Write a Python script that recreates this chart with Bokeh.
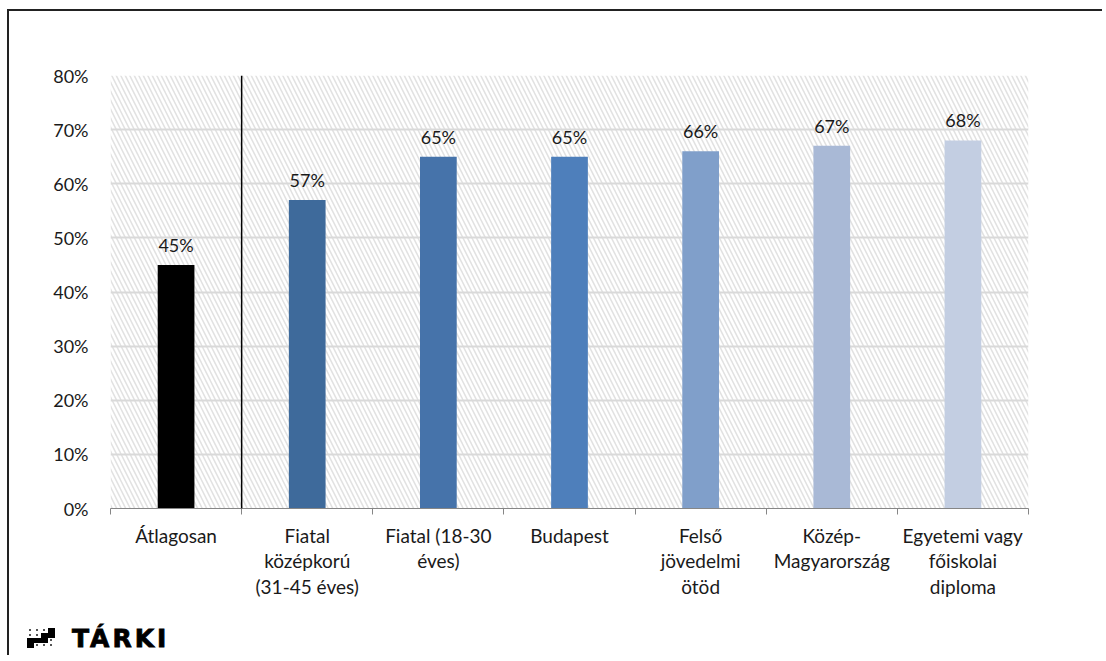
from bokeh.plotting import figure
from bokeh.models import (ColumnDataSource, FixedTicker, Range1d, Span, Div,
                          NumeralTickFormatter)
from bokeh.layouts import column
from bokeh.embed import file_html
from bokeh.resources import INLINE
from bokeh.core.properties import value

categories = ["Átlagosan", "Fiatal\nközépkorú\n(31-45 éves)", "Fiatal (18-30\néves)",
              "Budapest", "Felső\njövedelmi\nötöd", "Közép-\nMagyarország",
              "Egyetemi vagy\nfőiskolai\ndiploma"]
values = [0.45, 0.57, 0.65, 0.65, 0.66, 0.67, 0.68]
labels = ["45%", "57%", "65%", "65%", "66%", "67%", "68%"]
colors = ["#000000", "#3E6A9B", "#4673AA", "#4E7FBB", "#809FCA", "#A9B9D6", "#C3CEE2"]
y_ticks = [0, 0.1, 0.2, 0.3, 0.4, 0.5, 0.6, 0.7, 0.8]

FONT = "Lato"
n = len(categories)
xs = [i + 0.5 for i in range(n)]

src = ColumnDataSource(dict(x=xs, top=values, color=colors, label=labels))

p = figure(width=1095, height=600, output_backend="svg", toolbar_location=None,
           x_range=Range1d(0, n), y_range=Range1d(0, 0.8),
           min_border_left=101, min_border_right=76, min_border_top=64,
           min_border_bottom=103)
p.outline_line_color = None
p.background_fill_color = "white"
p.border_fill_color = "white"

# hatched plot-area background
p.quad(left=[0], right=[n], bottom=[0], top=[0.8], fill_color="white",
       line_color=None, hatch_pattern="\\", hatch_color="#E2E2E2",
       hatch_weight=1.6, hatch_scale=9, level="image")

p.xgrid.visible = False
p.ygrid.grid_line_color = "#D9D9D9"
p.ygrid.grid_line_width = 2
p.yaxis.ticker = FixedTicker(ticks=y_ticks)

p.vbar(x="x", top="top", width=0.28, bottom=0, fill_color="color", line_color=None, source=src)

p.text(x="x", y="top", text="label", source=src, text_align="center",
       text_baseline="alphabetic", y_offset=-20, text_font=value(FONT),
       text_font_size="18px", text_color="#1a1a1a")

p.add_layout(Span(location=1, dimension="height", line_color="#000000", line_width=1.5))

# y axis
p.yaxis.formatter = NumeralTickFormatter(format="0%")
p.yaxis.axis_line_color = None
p.yaxis.major_tick_line_color = None
p.yaxis.minor_tick_line_color = None
p.yaxis.major_label_standoff = 16
p.yaxis.major_label_text_font = FONT
p.yaxis.major_label_text_font_size = "18px"
p.yaxis.major_label_text_color = "#1a1a1a"

# x axis
p.xaxis.ticker = FixedTicker(ticks=xs, minor_ticks=list(range(n + 1)))
p.xaxis.major_label_overrides = {x: c for x, c in zip(xs, categories)}
p.xaxis.axis_line_color = "#868686"
p.xaxis.axis_line_width = 1.2
p.xaxis.major_tick_line_color = None
p.xaxis.minor_tick_line_color = "#868686"
p.xaxis.minor_tick_out = 6
p.xaxis.minor_tick_in = 0
p.xaxis.major_label_standoff = 9
p.xaxis.major_label_text_font = FONT
p.xaxis.major_label_text_font_size = "19px"
p.xaxis.major_label_text_color = "#1a1a1a"
p.xaxis.major_label_text_line_height = 1.12

# TÁRKI logo
cells = [(3, 0), (2, 1), (3, 1), (0, 2), (1, 2), (2, 2), (0, 3)]
dots = [(0, 0), (1, 0), (2, 0), (0, 1), (1, 1), (3, 2), (1, 3), (2, 3), (3, 3)]
icon = "".join(
    f'<div style="position:absolute;left:{18 + cx * 7}px;top:{17 + cy * 5}px;'
    f'width:7px;height:5px;background:#000;"></div>' for cx, cy in cells)
icon += "".join(
    f'<div style="position:absolute;left:{20 + cx * 7}px;top:{18 + cy * 5}px;'
    f'width:2px;height:2px;background:#555;"></div>' for cx, cy in dots)
logo_html = (
    '<div style="position:relative;width:300px;height:46px;">' + icon +
    '<span style="position:absolute;left:63px;top:15px;font-family:\'DejaVu Sans\';'
    'font-weight:900;font-size:25px;line-height:25px;letter-spacing:3px;'
    '-webkit-text-stroke:0.8px #000;color:#000;">TÁRKI</span></div>')
logo = Div(text=logo_html, width=300, height=46, margin=(0, 0, 0, 0))

layout = column(p, logo, spacing=0,
                styles={"box-shadow": "-2px -2px 0 0 #222222",
                        "margin-left": "9px", "margin-top": "11px"})

html = file_html(layout, INLINE)
html = html.replace("<body>", '<body style="margin:0;overflow:hidden;">', 1)
open("out.html", "w").write(html)
